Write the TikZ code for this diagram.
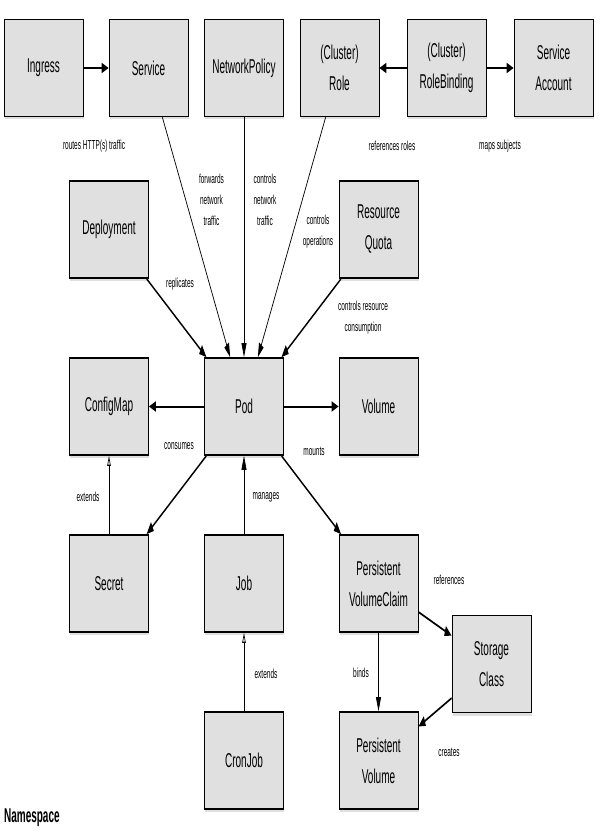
\documentclass[tikz,border=0pt]{standalone}
\usepackage{fontspec}
\setmainfont{Liberation Sans}
\usepackage{tikz}
\usetikzlibrary{arrows.meta, shadows}
\definecolor{objgray}{RGB}{224, 224, 224}

\begin{document}
\begin{tikzpicture}[
  kobj/.style={draw=black, fill=objgray, line width=1.6pt, minimum width=158pt, minimum height=97pt, inner sep=0pt, align=center, font=\fontsize{20}{31}\selectfont, drop shadow={shadow xshift=1pt, shadow yshift=-3pt, opacity=0.25}},
  rel/.style={-{Triangle[length=14pt, width=10pt]}, line width=2pt},
  thinrel/.style={-{Triangle[length=14pt, width=10pt]}, line width=1.3pt},
  extendrel/.style={-{Triangle[open, length=10pt, width=7pt]}, line width=1.3pt},
  lbl/.style={align=center, inner sep=0pt, font=\fontsize{13}{21}\selectfont}
]
  \path[use as bounding box, fill=white] (0,0) rectangle (600pt,-832pt);

  % the whole drawing is squeezed to half its width
  \begin{scope}[transform canvas={xscale=0.5}, x=2pt, y=-1pt]

  % Top row
  \node[kobj] (ingress) at (43.5, 68) {Ingress};
  \node[kobj] (service) at (148.5, 68) {Service};
  \node[kobj] (netpol) at (244, 68) {NetworkPolicy};
  \node[kobj] (role) at (339.5, 68) {(Cluster)\\Role};
  \node[kobj] (rolebind) at (446.5, 68) {(Cluster)\\RoleBinding};
  \node[kobj] (svcacct) at (553.5, 68) {Service\\Account};

  % Around the pod
  \node[kobj] (deploy) at (109, 229.5) {Deployment};
  \node[kobj] (quota) at (378.5, 229.5) {Resource\\Quota};
  \node[kobj] (configmap) at (109, 406.5) {ConfigMap};
  \node[kobj] (pod) at (244, 406.5) {Pod};
  \node[kobj] (volume) at (378.5, 406.5) {Volume};

  % Lower rows
  \node[kobj] (secret) at (109, 583.5) {Secret};
  \node[kobj] (job) at (244, 583.5) {Job};
  \node[kobj] (pvc) at (378.5, 583.5) {Persistent\\VolumeClaim};
  \node[kobj] (storage) at (491.5, 664) {Storage\\Class};
  \node[kobj] (cronjob) at (244, 760.5) {CronJob};
  \node[kobj] (pv) at (378.5, 760.5) {Persistent\\Volume};

  % Relations
  \draw[rel] (ingress) -- (service);
  \draw[rel] (rolebind) -- (role);
  \draw[rel] (rolebind) -- (svcacct);
  \draw[thinrel] (service) -- (pod);
  \draw[thinrel] (netpol) -- (pod);
  \draw[thinrel] (role) -- (pod);
  \draw[rel] (deploy) -- (pod);
  \draw[rel] (quota) -- (pod);
  \draw[rel] (pod) -- (configmap);
  \draw[rel] (pod) -- (volume);
  \draw[rel] (pod) -- (secret);
  \draw[rel] (pod) -- (pvc);
  \draw[thinrel] (job) -- (pod);
  \draw[extendrel] (secret) -- (configmap);
  \draw[extendrel] (cronjob) -- (job);
  \draw[rel] (pvc) -- (storage);
  \draw[thinrel] (pvc) -- (pv);
  \draw[rel] (storage) -- (pv);

  % Labels
  \node[lbl] (lroutes) at (94, 146) {routes HTTP(s) traffic};
  \node[lbl] (lforwards) at (211.5, 199.5) {forwards\\network\\traffic};
  \node[lbl] (lnetctl) at (265, 199.5) {controls\\network\\traffic};
  \node[lbl] (lrefroles) at (392, 146) {references roles};
  \node[lbl] (lmaps) at (500, 146) {maps subjects};
  \node[lbl] (lops) at (318, 232) {controls\\operations};
  \node[lbl] (lreplicates) at (180, 284) {replicates};
  \node[lbl] (lquota) at (363, 317.5) {controls resource\\consumption};
  \node[lbl] (lconsumes) at (179, 446) {consumes};
  \node[lbl] (lmounts) at (314, 451) {mounts};
  \node[lbl] (lextsecret) at (88, 497) {extends};
  \node[lbl] (lmanages) at (266, 497) {manages};
  \node[lbl] (lrefs) at (449, 580) {references};
  \node[lbl] (lbinds) at (361, 673) {binds};
  \node[lbl] (lcreates) at (449, 752) {creates};
  \node[lbl] (lextjob) at (266, 674) {extends};

  % Namespace caption
  \node[anchor=west, inner sep=0pt, font=\bfseries\fontsize{20}{24}\selectfont] (nscaption) at (4, 818) {Namespace};

  \end{scope}
\end{tikzpicture}
\end{document}
